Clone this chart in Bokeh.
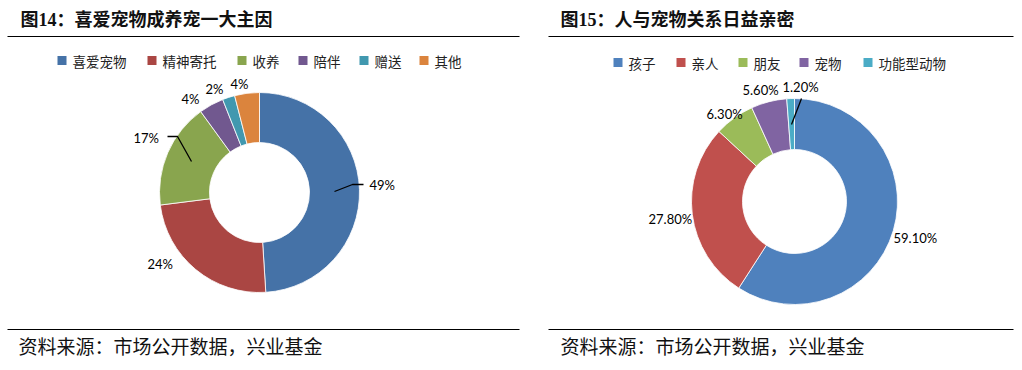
import math
from bokeh.plotting import figure
from bokeh.models import Range1d
from bokeh.core.properties import value
from bokeh.embed import file_html
from bokeh.resources import INLINE

# ---- data ----
left_title = "图14：喜爱宠物成养宠一大主因"
left_cats = ["喜爱宠物", "精神寄托", "收养", "陪伴", "赠送", "其他"]
left_vals = [49, 24, 17, 4, 2, 4]
left_labels = ["49%", "24%", "17%", "4%", "2%", "4%"]
left_colors = ["#4572A7", "#AA4643", "#89A54E", "#71588F", "#4198AF", "#DB843D"]

right_title = "图15：人与宠物关系日益亲密"
right_cats = ["孩子", "亲人", "朋友", "宠物", "功能型动物"]
right_vals = [59.1, 27.8, 6.3, 5.6, 1.2]
right_labels = ["59.10%", "27.80%", "6.30%", "5.60%", "1.20%"]
right_colors = ["#4F81BD", "#C0504D", "#9BBB59", "#8064A2", "#4BACC6"]

source_text = "资料来源：市场公开数据，兴业基金"

# ---- layout (reference pixel coords; y is converted) ----
W, H = 1014, 362
H_TOT = 370
def Y(v):
    return H_TOT - v

p = figure(width=W, height=H, output_backend="svg", toolbar_location=None,
           x_range=Range1d(0, W), y_range=Range1d(H_TOT - H, H_TOT),
           min_border=0, outline_line_color=None)
p.axis.visible = False
p.grid.visible = False
p.background_fill_color = "white"
p.border_fill_color = "white"

TITLE_FONT = value("Liberation Serif, Noto Sans CJK SC")
LBL_FONT = value("Lato")
CJK_FONT = value("Noto Sans CJK SC")

def donut(cx, cy, r_out, r_in, vals, colors):
    tot = sum(vals)
    cum = 0.0
    starts, ends = [], []
    for v in vals:
        starts.append(math.pi / 2 - 2 * math.pi * cum / tot)
        cum += v
        ends.append(math.pi / 2 - 2 * math.pi * cum / tot)
    p.annular_wedge(x=[cx] * len(vals), y=[Y(cy)] * len(vals),
                    inner_radius=r_in, outer_radius=r_out,
                    start_angle=starts, end_angle=ends, direction="clock",
                    fill_color=colors, line_color="white", line_width=0.8)

def legend(xs, y, cats, colors, sq):
    for x0, c, col in zip(xs, cats, colors):
        p.rect(x=[x0 + sq / 2], y=[Y(y)], width=sq, height=sq,
               fill_color=col, line_color=None)
        p.text(x=[x0 + sq + 6], y=[Y(y)], text=[c], text_font=CJK_FONT,
               text_font_size="13.5px", text_baseline="middle", text_color="#222222")

# titles
p.text(x=[20], y=[Y(19)], text=[left_title], text_font=TITLE_FONT,
       text_font_style="bold", text_font_size="18px", text_baseline="middle", text_color="#111111")
p.text(x=[560], y=[Y(19)], text=[right_title], text_font=TITLE_FONT,
       text_font_style="bold", text_font_size="18px", text_baseline="middle", text_color="#111111")
# rules
p.line(x=[7, 519], y=[Y(36), Y(36)], line_color="black", line_width=1.2)
p.line(x=[548, 1013], y=[Y(36), Y(36)], line_color="black", line_width=1.2)
p.line(x=[7, 519], y=[Y(329), Y(329)], line_color="black", line_width=1.2)
p.line(x=[548, 1013], y=[Y(329), Y(329)], line_color="black", line_width=1.2)

# legends
legend([57, 147, 237, 298, 359, 419], 60, left_cats, left_colors, 9)
legend([613, 676, 738, 799, 863], 62, right_cats, right_colors, 9)

# donuts
donut(259, 192, 100, 50, left_vals, left_colors)
donut(794, 201, 103, 52, right_vals, right_colors)

# data labels (positions = layout)
left_lpos = [(369, 184), (147, 263), (133, 137), (181, 98), (205, 88), (230, 83)]
right_lpos = [(893, 237), (648, 218), (706, 113), (742, 89), (782, 86)]
for (lx, ly), t in zip(left_lpos, left_labels):
    p.text(x=[lx], y=[Y(ly)], text=[t], text_font=LBL_FONT, text_font_size="13px",
           text_baseline="middle", text_color="black")
for (lx, ly), t in zip(right_lpos, right_labels):
    p.text(x=[lx], y=[Y(ly)], text=[t], text_font=LBL_FONT, text_font_size="13px",
           text_baseline="middle", text_color="black")

# leader lines
p.line(x=[334, 352, 363], y=[Y(191), Y(184), Y(184)], line_color="black", line_width=1.3)
p.line(x=[167, 177, 191], y=[Y(136), Y(136), Y(161)], line_color="black", line_width=1.3)
p.line(x=[791, 801], y=[Y(124), Y(98)], line_color="black", line_width=1.3)

# sources
p.text(x=[18], y=[Y(347)], text=[source_text], text_font=TITLE_FONT,
       text_font_size="19px", text_baseline="middle", text_color="#111111")
p.text(x=[560], y=[Y(347)], text=[source_text], text_font=TITLE_FONT,
       text_font_size="19px", text_baseline="middle", text_color="#111111")

open("out.html", "w").write(file_html(p, INLINE))
